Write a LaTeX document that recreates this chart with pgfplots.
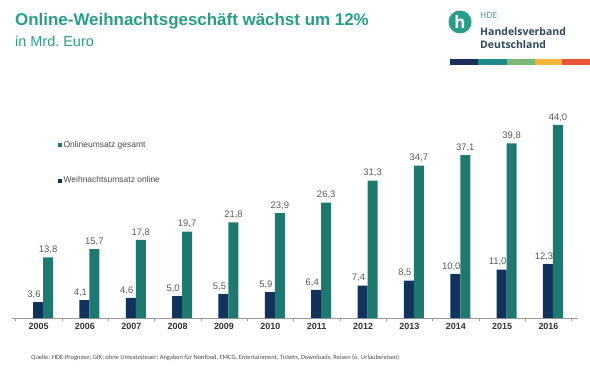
\documentclass[border=0pt]{standalone}
\usepackage{fontspec}
\setmainfont{Liberation Sans}
\newfontfamily\carlito{Carlito}
\newfontfamily\opensans{Open Sans}
\usepackage{pgfplots}
\pgfplotsset{compat=1.18}
\definecolor{titleteal}{RGB}{40,158,136}
\definecolor{darkbar}{RGB}{16,50,92}
\definecolor{tealbar}{RGB}{30,122,112}
\definecolor{logotext}{RGB}{45,72,92}
\definecolor{s1}{RGB}{27,47,90}
\definecolor{s2}{RGB}{31,138,138}
\definecolor{s3}{RGB}{127,185,122}
\definecolor{s4}{RGB}{245,182,60}
\definecolor{s5}{RGB}{232,85,58}
\begin{document}
\begin{tikzpicture}
\begin{scope}[x=1bp,y=1bp]
\useasboundingbox[fill=white] (0,0) rectangle (590,369);
% title
\node[anchor=base west, inner sep=0, font=\bfseries\fontsize{17}{19}\selectfont, text=titleteal] at (15,369-25) {Online-Weihnachtsgeschäft wächst um 12\%};
\node[anchor=base west, inner sep=0, font=\fontsize{14.5}{16}\selectfont, text=titleteal] at (15,369-46) {in Mrd.\ Euro};
% logo
\fill[titleteal] (460,369-22) circle (11.5);
\node[text=white, font=\opensans\bfseries\fontsize{17}{18}\selectfont, inner sep=0] at (460,369-22) {h};
\node[anchor=base west, inner sep=0, font=\opensans\fontsize{8.5}{9}\selectfont, text=titleteal] at (480,369-18) {HDE};
\node[anchor=base west, inner sep=0, font=\opensans\bfseries\fontsize{10.5}{11}\selectfont, text=logotext] at (480,369-35) {Handelsverband};
\node[anchor=base west, inner sep=0, font=\opensans\bfseries\fontsize{10.5}{11}\selectfont, text=logotext] at (480,369-48) {Deutschland};
\fill[s1] (450,369-65) rectangle (478,369-59);
\fill[s2] (478,369-65) rectangle (507,369-59);
\fill[s3] (507,369-65) rectangle (535,369-59);
\fill[s4] (535,369-65) rectangle (562,369-59);
\fill[s5] (562,369-65) rectangle (590,369-59);
% source
\node[anchor=base west, inner sep=0, font=\carlito\fontsize{6.5}{7}\selectfont, text=black!70] at (31,369-359) {Quelle: HDE-Prognose; GfK; ohne Umsatzsteuer; Angaben für Nonfood, FMCG, Entertainment, Tickets, Downloads, Reisen (o. Urlaubsreisen)};
\end{scope}
\begin{axis}[
  at={(12bp,51bp)}, anchor=south west, scale only axis,
  width=566bp, height=219.5bp,
  xmin=-0.67, xmax=11.54, ymin=0, ymax=50,
  axis y line=none, axis x line*=bottom,
  x axis line style={black!40, -},
  ybar=0pt, bar width=10bp,
  xtick={0,1,2,3,4,5,6,7,8,9,10,11},
  xticklabels={2005,2006,2007,2008,2009,2010,2011,2012,2013,2014,2015,2016},
  major tick length=0pt,
  minor xtick={-0.6,0.4,1.4,2.4,3.4,4.4,5.4,6.4,7.4,8.4,9.4,10.4,11.4},
  minor tick length=3bp, tick align=outside,
  every minor tick/.append style={black!40},
  xticklabel style={font=\bfseries\fontsize{9}{10}\selectfont, text=black!80, xshift=-4.5bp, yshift=-2bp},
  /pgf/number format/assume math mode=true,
  nodes near coords={\pgfmathprintnumber[use comma, fixed, fixed zerofill, precision=1]{\pgfplotspointmeta}},
  every node near coord/.append style={font=\fontsize{9.5}{10}\selectfont, text=black!65},
  reverse legend,
  legend style={at={(0.075,0.825)}, anchor=north west, draw=none, fill=none,
    font=\fontsize{8.5}{9}\selectfont, text=black!70, row sep=24bp},
  legend cell align=left,
]
\addplot[fill=darkbar, draw=none, every node near coord/.append style={xshift=-4bp},
  legend image code/.code={\fill[darkbar] (0bp,-2bp) rectangle (4bp,2bp);}]
  coordinates {(0,3.6) (1,4.1) (2,4.6) (3,5.0) (4,5.5) (5,5.9) (6,6.4) (7,7.4) (8,8.5) (9,10.0) (10,11.0) (11,12.3)};
\addlegendentry{Weihnachtsumsatz online}
\addplot[fill=tealbar, draw=none,
  legend image code/.code={\fill[tealbar] (0bp,-2bp) rectangle (4bp,2bp);}]
  coordinates {(0,13.8) (1,15.7) (2,17.8) (3,19.7) (4,21.8) (5,23.9) (6,26.3) (7,31.3) (8,34.7) (9,37.1) (10,39.8) (11,44.0)};
\addlegendentry{Onlineumsatz gesamt}
\end{axis}
\end{tikzpicture}
\end{document}
